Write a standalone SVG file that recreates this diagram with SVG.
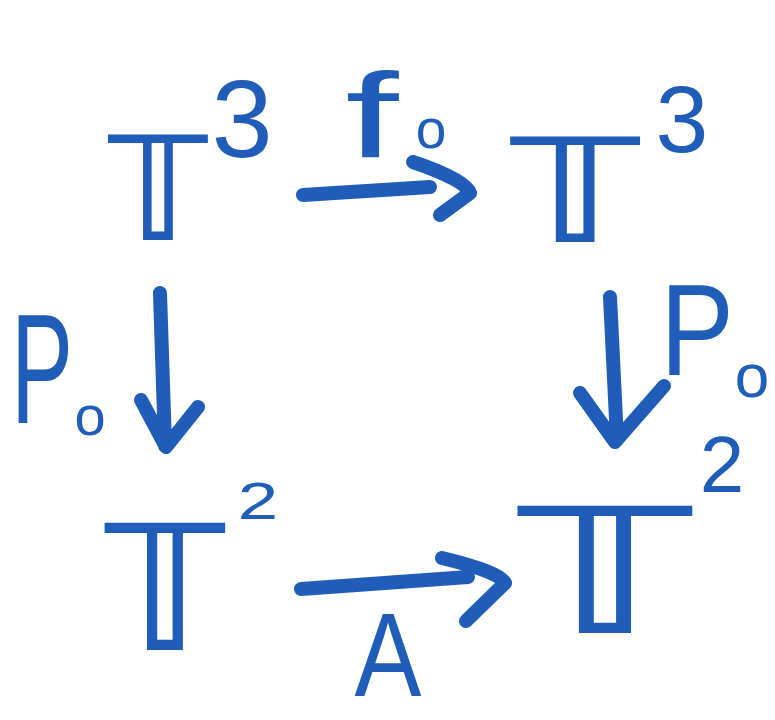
<svg xmlns="http://www.w3.org/2000/svg" width="775" height="720" viewBox="0 0 775 720">
<style>
.t{font-family:"DejaVu Sans",sans-serif;font-weight:bold;fill:#1f5db8;text-anchor:middle}
.l{font-family:"Liberation Sans",sans-serif;fill:#1f5db8;text-anchor:middle}
.a{fill:none;stroke:#1f5db8;stroke-width:14;stroke-linecap:round;stroke-linejoin:round}
</style>
<rect width="775" height="720" fill="#ffffff"/>
<g id="T3-left"><text class="t" x="158" y="240" font-size="145">𝕋</text><text class="l" x="242" y="157" font-size="110">3</text></g>
<g id="T3-right"><text class="t" transform="translate(575,242) scale(1.3,1)" font-size="145">𝕋</text><text class="l" x="682" y="152" font-size="95">3</text></g>
<g id="T2-left"><text class="t" x="165" y="650" font-size="175">𝕋</text><text class="l" transform="translate(258,519) scale(1.4,1)" font-size="52">2</text></g>
<g id="T2-right"><text class="t" transform="translate(605,633) scale(1.45,1)" font-size="175">𝕋</text><text class="l" x="722" y="492" font-size="80">2</text></g>
<g id="connectors">
<path class="a" d="M303,195 L430,187 M413,162 Q466,180 470,193 L440,215"/>
<path class="a" d="M160,293 L165,446 M141,400 L166,447 L198,407"/>
<path class="a" d="M610,297 L617,440 M580,393 L615,442 L664,386"/>
<path class="a" d="M301,589 L468,577 M442,558 Q500,572 505,583 L466,621"/>
</g>
<g id="labels">
<text class="l" transform="translate(372,157) scale(1.6,1)" font-size="120">f</text><text class="l" x="431" y="148" font-size="55">o</text>
<text class="l" transform="translate(42,423) scale(0.6,1)" font-size="155">P</text><text class="l" x="90" y="435" font-size="56">o</text>
<text class="l" transform="translate(697,375) scale(0.85,1)" font-size="130">P</text><text class="l" x="752" y="397" font-size="62">o</text>
<text class="l" transform="translate(388,696) scale(0.85,1)" font-size="118">A</text>
</g>
</svg>
